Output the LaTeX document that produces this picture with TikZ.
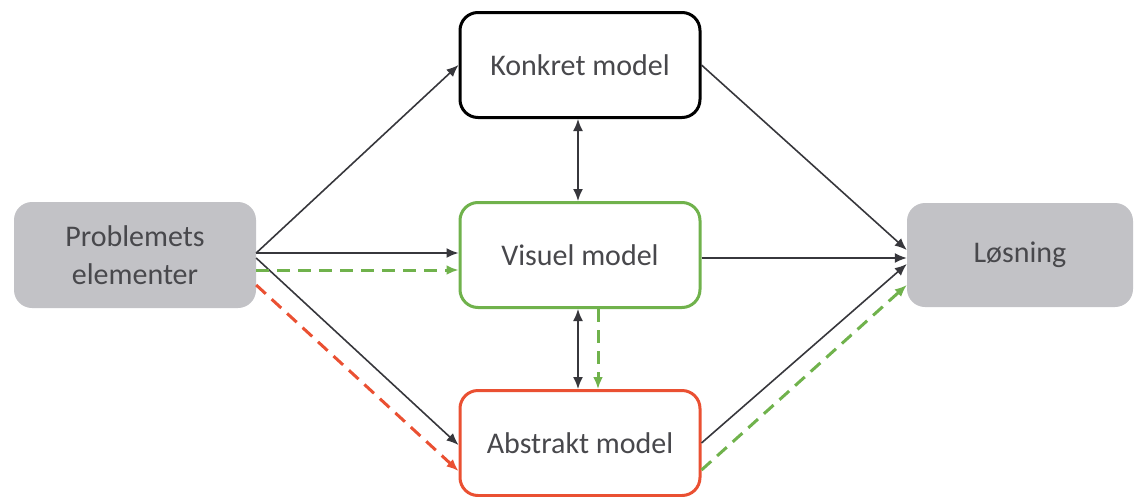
\documentclass[tikz,border=0pt]{standalone}
\usepackage{fontspec}
\setmainfont{Carlito}
\usetikzlibrary{arrows.meta,calc}
\definecolor{boxgray}{RGB}{194,194,198}
\definecolor{txtgray}{RGB}{72,72,76}
\definecolor{mgreen}{RGB}{112,178,76}
\definecolor{mred}{RGB}{234,80,50}
\definecolor{lgray}{RGB}{55,55,60}
\tikzset{
  base/.style={rectangle, rounded corners=18pt, minimum width=240pt, minimum height=105pt,
    align=center, text=txtgray, font=\fontsize{30}{38}\selectfont, inner sep=0pt},
  graybox/.style={base, fill=boxgray, draw=none},
  whitebox/.style={base, fill=white, line width=3pt},
  conn/.style={draw=lgray, line width=1.6pt, -{Latex[length=12pt,width=10pt]}},
  bconn/.style={draw=lgray, line width=1.6pt, {Latex[length=12pt,width=10pt]}-{Latex[length=12pt,width=10pt]}},
  gdash/.style={draw=mgreen, line width=3pt, dash pattern=on 13pt off 8pt, -{Latex[length=12pt,width=10pt]}},
  rdash/.style={draw=mred, line width=3pt, dash pattern=on 13pt off 8pt, -{Latex[length=12pt,width=10pt]}}
}
\begin{document}
\begin{tikzpicture}[x=1pt,y=-1pt]
\useasboundingbox (0,0) rectangle (1136,496);
\node[graybox, minimum width=242pt, minimum height=106pt] (prob) at (135,255) {Problemets\\elementer};
\node[whitebox, draw=black] (konk) at (580,65) {Konkret model};
\node[whitebox, draw=mgreen] (vis) at (580,255) {Visuel model};
\node[whitebox, draw=mred] (abs) at (580,443) {Abstrakt model};
\node[graybox, minimum width=226pt, minimum height=104pt] (los) at (1020,255) {Løsning};

% from problem
\draw[conn] ([yshift=2pt]prob.east) -- (konk.west);
\draw[conn] ([yshift=2pt]prob.east) -- ([yshift=2pt]vis.west);
\draw[conn] ([yshift=-3pt]prob.east) -- ([yshift=-2pt]abs.west);
\draw[gdash] ([yshift=-15pt]prob.east) -- ([yshift=-15pt]vis.west);
\draw[rdash] ([yshift=-30pt]prob.east) -- ([yshift=-28pt]abs.west);

% vertical
\draw[bconn] ([xshift=-2pt]konk.south) -- ([xshift=-2pt]vis.north);
\draw[bconn] ([xshift=-2pt]vis.south) -- ([xshift=-2pt]abs.north);
\draw[gdash] ([xshift=18pt]vis.south) -- ([xshift=18pt]abs.north);

% to solution
\draw[conn] (konk.east) -- ([yshift=5pt]los.west);
\draw[conn] ([yshift=-3pt]vis.east) -- ([yshift=-3pt]los.west);
\draw[conn] (abs.east) -- ([yshift=-9pt]los.west);
\draw[gdash] ([yshift=-27pt]abs.east) -- ([yshift=-30pt]los.west);
\end{tikzpicture}
\end{document}
